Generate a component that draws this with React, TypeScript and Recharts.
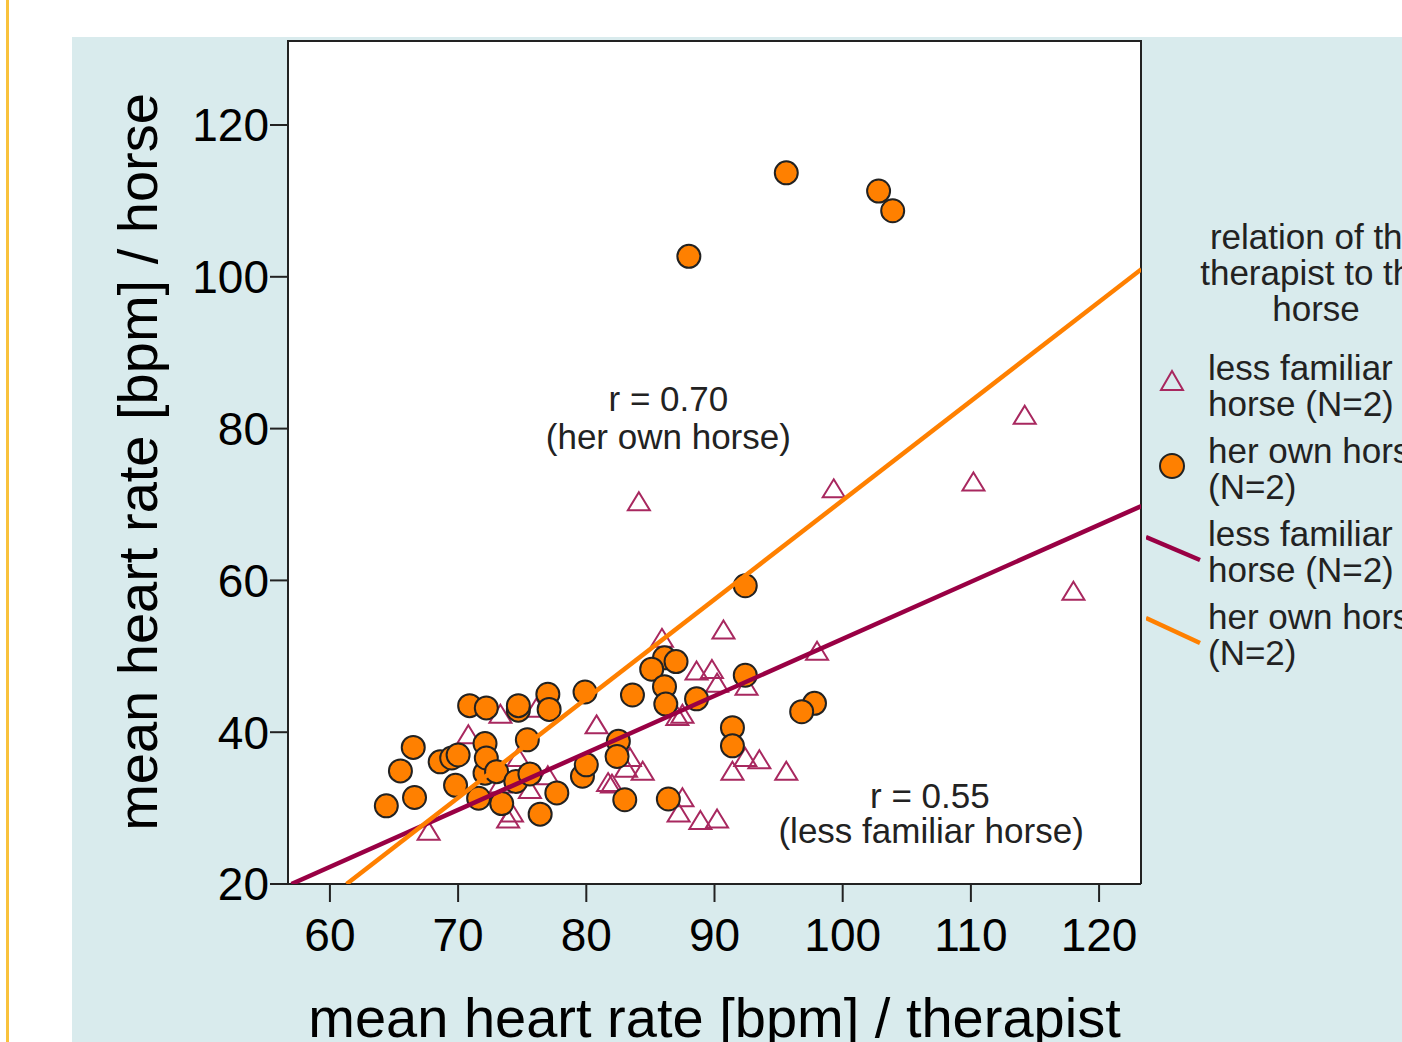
import React from 'react';
import {
  ScatterChart, Scatter, XAxis, YAxis, Legend, ReferenceDot, Label, CartesianGrid
} from 'recharts';

const FONT = '"Liberation Sans", Arial, sans-serif';
const ORANGE = '#FF8000';
const MAROON = '#990044';
const TRI = '#A8285F';
const PANEL = '#D9EBED';

const xTicks = [60, 70, 80, 90, 100, 110, 120];
const yTicks = [20, 40, 60, 80, 100, 120];

// less familiar horse (triangles)
const lessFamiliar = [
  { x: 84.1, y: 70.3 }, { x: 99.3, y: 72.0 }, { x: 110.2, y: 72.9 }, { x: 114.2, y: 81.7 },
  { x: 118.0, y: 58.5 }, { x: 98.0, y: 50.6 }, { x: 90.7, y: 53.4 }, { x: 85.9, y: 52.3 },
  { x: 88.6, y: 48.0 }, { x: 89.8, y: 48.2 }, { x: 90.2, y: 46.4 }, { x: 92.5, y: 46.0 },
  { x: 80.8, y: 40.9 }, { x: 87.1, y: 42.0 }, { x: 87.5, y: 42.3 }, { x: 83.4, y: 36.6 },
  { x: 84.4, y: 34.8 }, { x: 83.1, y: 35.2 }, { x: 82.0, y: 33.1 }, { x: 87.5, y: 31.3 },
  { x: 87.2, y: 29.3 }, { x: 88.9, y: 28.3 }, { x: 90.2, y: 28.5 }, { x: 91.4, y: 34.8 },
  { x: 92.4, y: 36.6 }, { x: 93.5, y: 36.3 }, { x: 95.6, y: 34.8 }, { x: 73.3, y: 42.3 },
  { x: 70.8, y: 39.6 }, { x: 74.7, y: 36.6 }, { x: 77.0, y: 34.2 }, { x: 75.6, y: 32.4 },
  { x: 74.2, y: 29.3 }, { x: 73.9, y: 28.5 }, { x: 67.7, y: 26.9 }, { x: 76.1, y: 43.1 },
  { x: 73.3, y: 33.1 }, { x: 81.7, y: 33.3 },
];

// her own horse (circles)
const ownHorse = [
  { x: 64.4, y: 30.3 }, { x: 66.6, y: 31.4 }, { x: 65.5, y: 34.9 }, { x: 66.5, y: 38.0 },
  { x: 68.6, y: 36.1 }, { x: 69.5, y: 36.6 }, { x: 70.0, y: 37.0 }, { x: 69.8, y: 33.0 },
  { x: 70.9, y: 43.5 }, { x: 72.2, y: 43.2 }, { x: 74.7, y: 42.9 }, { x: 74.7, y: 43.5 },
  { x: 77.0, y: 45.0 }, { x: 77.1, y: 43.0 }, { x: 79.9, y: 45.3 }, { x: 72.1, y: 38.5 },
  { x: 75.4, y: 39.0 }, { x: 72.1, y: 34.6 }, { x: 72.2, y: 36.6 }, { x: 73.0, y: 34.8 },
  { x: 71.6, y: 31.3 }, { x: 73.4, y: 30.6 }, { x: 74.5, y: 33.5 }, { x: 75.6, y: 34.5 },
  { x: 77.7, y: 32.0 }, { x: 76.4, y: 29.2 }, { x: 79.7, y: 34.2 }, { x: 80.0, y: 35.7 },
  { x: 92.4, y: 59.3 }, { x: 86.1, y: 49.8 }, { x: 87.0, y: 49.3 }, { x: 85.1, y: 48.3 },
  { x: 83.6, y: 44.9 }, { x: 86.1, y: 46.0 }, { x: 86.2, y: 43.7 }, { x: 88.6, y: 44.4 },
  { x: 92.4, y: 47.5 }, { x: 97.8, y: 43.8 }, { x: 96.8, y: 42.7 }, { x: 91.4, y: 40.6 },
  { x: 91.4, y: 38.2 }, { x: 82.5, y: 38.8 }, { x: 82.4, y: 36.8 }, { x: 83.0, y: 31.1 },
  { x: 86.4, y: 31.2 }, { x: 88.0, y: 102.7 }, { x: 95.6, y: 113.7 }, { x: 102.8, y: 111.3 },
  { x: 103.9, y: 108.7 },
];

// fit lines (endpoints inside the plotted range)
const lessFamiliarFit = [{ x: 57.0, y: 20.0 }, { x: 123.3, y: 69.8 }];
const ownHorseFit = [{ x: 61.3, y: 20.0 }, { x: 123.3, y: 101.0 }];

const notes = [
  { x: 86.4, y: 83.9, text: 'r = 0.70' },
  { x: 86.4, y: 79.0, text: '(her own horse)' },
  { x: 106.8, y: 31.7, text: 'r = 0.55' },
  { x: 106.9, y: 27.0, text: '(less familiar horse)' },
];

const legendTitle = ['relation of the', 'therapist to the', 'horse'];
const legendItems = [
  { kind: 'triangle', lines: ['less familiar', 'horse (N=2)'] },
  { kind: 'circle', lines: ['her own horse', '(N=2)'] },
  { kind: 'maroonLine', lines: ['less familiar', 'horse (N=2)'] },
  { kind: 'orangeLine', lines: ['her own horse', '(N=2)'] },
];

const Triangle = (props: any) => {
  const { cx, cy } = props;
  return (
    <path
      d={`M${cx},${cy - 10}L${cx + 11},${cy + 8}L${cx - 11},${cy + 8}Z`}
      fill="none"
      stroke={TRI}
      strokeWidth={2}
    />
  );
};

const Dot = (props: any) => {
  const { cx, cy } = props;
  return <circle cx={cx} cy={cy} r={11.5} fill={ORANGE} stroke="#222" strokeWidth={2} />;
};

const NoShape = () => <g />;

// frame lines on the plot edges
const frameRows = ({ offset }: any) => [offset.top + 1, offset.top + offset.height];
const frameCols = ({ offset }: any) => [offset.left, offset.left + offset.width];

const LegendSymbol = ({ kind }: { kind: string }) => {
  let mark = null;
  if (kind === 'triangle') {
    mark = <path d="M26,21L37,40L15,40Z" fill="none" stroke={TRI} strokeWidth={2} />;
  } else if (kind === 'circle') {
    mark = <circle cx={26} cy={33} r={12} fill={ORANGE} stroke="#222" strokeWidth={2} />;
  } else if (kind === 'maroonLine') {
    mark = <line x1={0} y1={21} x2={54} y2={44} stroke={MAROON} strokeWidth={4.5} />;
  } else {
    mark = <line x1={0} y1={19} x2={54} y2={44} stroke={ORANGE} strokeWidth={4.5} />;
  }
  return (
    <svg width={62} height={72} style={{ display: 'block', flex: 'none' }}>
      {mark}
    </svg>
  );
};

const renderLegend = () => (
  <div style={{ fontFamily: FONT, fontSize: 35, color: '#222', lineHeight: '36px' }}>
    <div style={{ textAlign: 'center', width: 340 }}>
      {legendTitle.map((t) => (
        <div key={t}>{t}</div>
      ))}
    </div>
    <div style={{ marginTop: 23 }}>
      {legendItems.map((it, i) => (
        <div key={i} style={{ display: 'flex', marginBottom: 11, whiteSpace: 'nowrap' }}>
          <LegendSymbol kind={it.kind} />
          <div>
            {it.lines.map((l) => (
              <div key={l}>{l}</div>
            ))}
          </div>
        </div>
      ))}
    </div>
  </div>
);

export default function App() {
  return (
    <div
      style={{
        position: 'absolute', left: 0, top: 0, width: 1402, height: 1042,
        overflow: 'hidden', background: '#fff',
      }}
    >
      <div style={{ position: 'absolute', left: 6, top: 0, width: 3, height: 1042, background: '#F9C23C' }} />
      <div style={{ position: 'absolute', left: 72, top: 37, right: 0, bottom: 0, background: PANEL }} />
      <div style={{ position: 'absolute', left: 0, top: 0 }}>
        <ScatterChart
          width={1402}
          height={1042}
          margin={{ top: 40, right: 261, bottom: 0, left: 0 }}
        >
          <CartesianGrid
            fill="#fff"
            stroke="#222"
            strokeWidth={2}
            horizontalCoordinatesGenerator={frameRows}
            verticalCoordinatesGenerator={frameCols}
          />
          <XAxis
            type="number"
            dataKey="x"
            domain={[56.73, 123.27]}
            allowDataOverflow
            ticks={xTicks}
            interval={0}
            height={158}
            tickSize={18}
            tickMargin={16}
            axisLine={{ stroke: '#222', strokeWidth: 2 }}
            tickLine={{ stroke: '#222', strokeWidth: 2 }}
            tick={{ fontSize: 46, fill: '#000', fontFamily: FONT }}
          >
            <Label
              value="mean heart rate [bpm] / therapist"
              position="insideBottom"
              offset={5}
              style={{ fontSize: 56, fill: '#000', fontFamily: FONT }}
            />
          </XAxis>
          <YAxis
            type="number"
            dataKey="y"
            domain={[20, 131.2]}
            allowDataOverflow
            ticks={yTicks}
            interval={0}
            width={288}
            tickSize={18}
            tickMargin={1}
            axisLine={{ stroke: '#222', strokeWidth: 2 }}
            tickLine={{ stroke: '#222', strokeWidth: 2 }}
            tick={{ fontSize: 46, fill: '#000', fontFamily: FONT }}
          >
            <Label
              value="mean heart rate [bpm] / horse"
              angle={-90}
              position="insideLeft"
              offset={137}
              style={{ fontSize: 56, fill: '#000', fontFamily: FONT, textAnchor: 'middle' }}
            />
          </YAxis>
          <Legend
            layout="vertical"
            align="center"
            verticalAlign="middle"
            content={renderLegend}
            wrapperStyle={{ position: 'absolute', left: 1146, top: 219, width: 340, height: 480 }}
          />
          <Scatter name="less familiar horse" data={lessFamiliar} shape={Triangle} isAnimationActive={false} />
          <Scatter name="her own horse" data={ownHorse} shape={Dot} isAnimationActive={false} />
          <Scatter
            name="fit less familiar"
            data={lessFamiliarFit}
            line={{ stroke: MAROON, strokeWidth: 4.5 }}
            shape={NoShape}
            isAnimationActive={false}
          />
          <Scatter
            name="fit own horse"
            data={ownHorseFit}
            line={{ stroke: ORANGE, strokeWidth: 4.5 }}
            shape={NoShape}
            isAnimationActive={false}
          />
          {notes.map((n) => (
            <ReferenceDot
              key={n.text}
              x={n.x}
              y={n.y}
              r={0}
              fill="none"
              stroke="none"
              label={{ value: n.text, position: 'center', fontSize: 35, fill: '#222', fontFamily: FONT }}
            />
          ))}
        </ScatterChart>
      </div>
    </div>
  );
}
